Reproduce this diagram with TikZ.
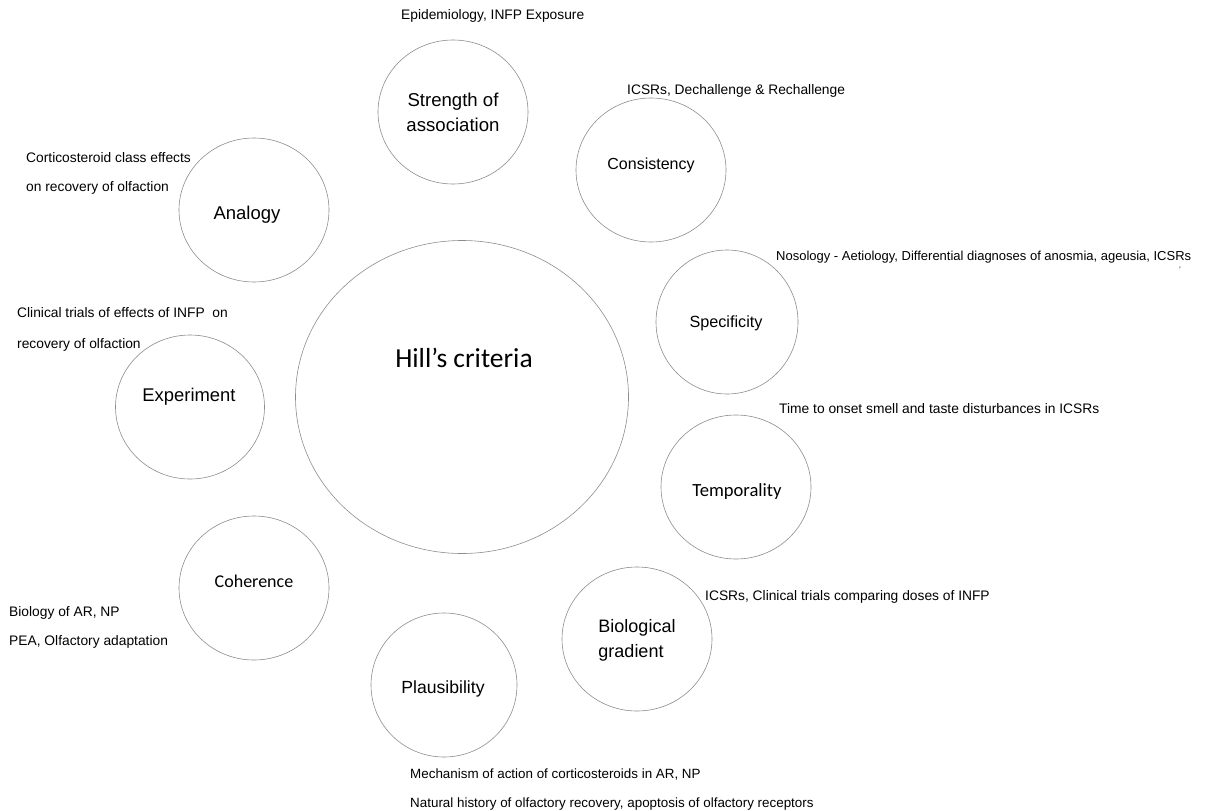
\documentclass[tikz,border=0pt]{standalone}
\usepackage{fontspec}
\setmainfont{Liberation Sans}
\newfontfamily\calibri{Carlito}
\usepackage{tikz}
\usetikzlibrary{shapes.geometric}

\begin{document}
\begin{tikzpicture}[
    x=1pt, y=-1pt,
    crit/.style={ellipse, draw=black!45, line width=0.6pt, minimum width=150pt, minimum height=144pt, inner sep=0pt},
    title/.style={align=center, font=\fontsize{18}{25}\selectfont},
    ctitle/.style={font=\calibri\fontsize{18}{22}\selectfont},
    note/.style={anchor=west, inner sep=0pt, align=left, font=\fontsize{13.8}{29}\selectfont}
]
    \useasboundingbox (0,0) rectangle (1221,811);

    % Central circle:
    \node[crit, minimum width=333pt, minimum height=313pt] (hill) at (462,397) {};
    \node[font=\calibri\fontsize{27.5}{32}\selectfont] (hilltxt) at (464,358) {Hill’s criteria};

    % The nine criteria around it:
    \node[crit] (strength) at (453,112) {};
    \node[crit] (consist) at (651,170) {};
    \node[crit, minimum width=142pt] (specif) at (727,322) {};
    \node[crit] (tempor) at (736,487) {};
    \node[crit] (gradient) at (637,639) {};
    \node[crit, minimum width=146pt] (plaus) at (444,685) {};
    \node[crit] (coher) at (254,588) {};
    \node[crit, minimum width=149pt] (exper) at (190,407) {};
    \node[crit] (analogy) at (254,210) {};

    \node[title, font=\fontsize{18.6}{25}\selectfont] (strengthtxt) at (453,112) {Strength of\\association};
    \node[title, font=\fontsize{16}{20}\selectfont] (consisttxt) at (651,165) {Consistency};
    \node[title, font=\fontsize{16.2}{20}\selectfont] (specifttxt) at (726,323) {Specificity};
    \node[ctitle, font=\calibri\fontsize{18.6}{22}\selectfont] (temportxt) at (737,492) {Temporality};
    \node[title, align=left] (gradienttxt) at (637,640) {Biological\\gradient};
    \node[title, font=\fontsize{17.6}{22}\selectfont] (plaustxt) at (443,689) {Plausibility};
    \node[ctitle] (cohertxt) at (254,581) {Coherence};
    \node[title, font=\fontsize{18.4}{22}\selectfont] (expertxt) at (189,397) {Experiment};
    \node[title, font=\fontsize{18.5}{22}\selectfont] (analogytxt) at (247,215) {Analogy};

    % Evidence notes:
    \node[note] (strengthnote) at (401,16) {Epidemiology, INFP Exposure};
    \node[note] (consistnote) at (627,91) {ICSRs, Dechallenge \& Rechallenge};
    \node[note, font=\fontsize{13}{29}\selectfont] (specifnote) at (776,257) {Nosology - Aetiology, Differential diagnoses of anosmia, ageusia, ICSRs};
    \node[note, font=\fontsize{8}{8}\selectfont] (specifmark) at (1179,270) {'};
    \node[note] (tempornote) at (779,409) {Time to onset smell and taste disturbances in ICSRs};
    \node[note] (gradientnote) at (705,597) {ICSRs, Clinical trials comparing doses of INFP};
    \node[note, font=\fontsize{13.4}{29}\selectfont] (plausnote) at (410,789.5) {Mechanism of action of corticosteroids in AR, NP\\Natural history of olfactory recovery, apoptosis of olfactory receptors};
    \node[note] (cohernote) at (9,627.5) {Biology of AR, NP\\PEA, Olfactory adaptation};
    \node[note, font=\fontsize{13.8}{31}\selectfont] (expernote) at (17,329.5) {Clinical trials of effects of INFP\ \ on\\recovery of olfaction};
    \node[note] (analogynote) at (26,173.5) {Corticosteroid class effects\\on recovery of olfaction};
\end{tikzpicture}
\end{document}
